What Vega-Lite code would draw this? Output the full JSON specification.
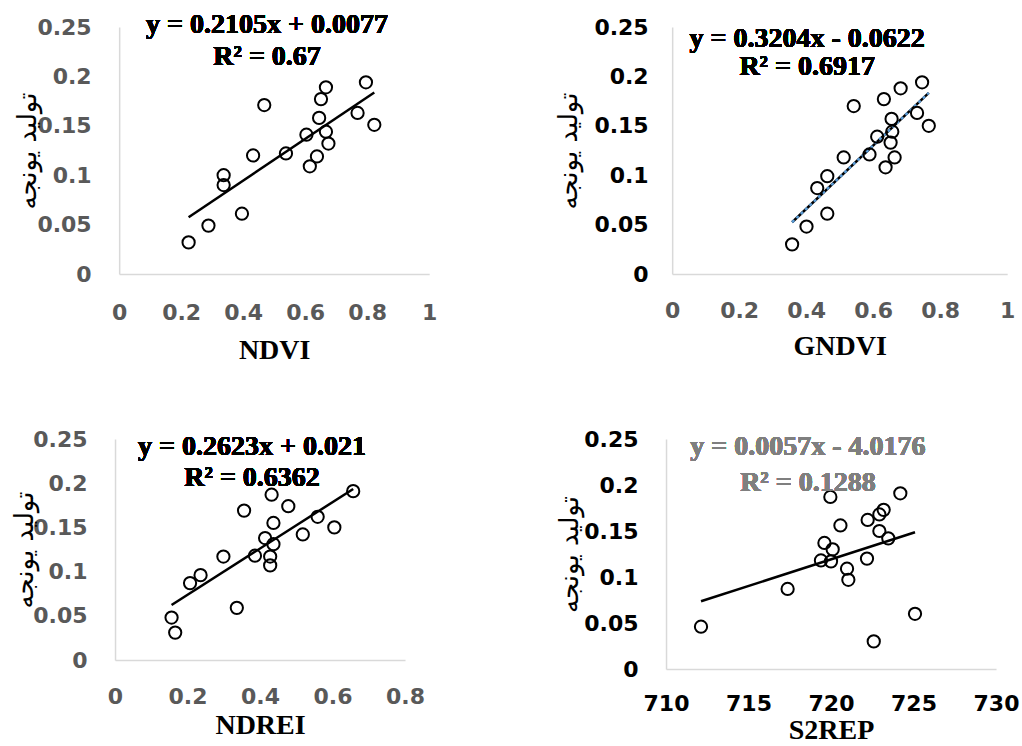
{
  "$schema": "https://vega.github.io/schema/vega-lite/v6.json",
  "padding": {"left": 11, "top": 11, "right": 4, "bottom": 4},
  "background": "white",
  "datasets": {
    "ndvi": [
      {"x": 0.224, "y": 0.032}, {"x": 0.288, "y": 0.049}, {"x": 0.396, "y": 0.061}, {"x": 0.337, "y": 0.100},
      {"x": 0.337, "y": 0.090}, {"x": 0.432, "y": 0.120}, {"x": 0.468, "y": 0.171}, {"x": 0.538, "y": 0.122},
      {"x": 0.604, "y": 0.141}, {"x": 0.615, "y": 0.109}, {"x": 0.638, "y": 0.119}, {"x": 0.645, "y": 0.158},
      {"x": 0.651, "y": 0.177}, {"x": 0.667, "y": 0.189}, {"x": 0.667, "y": 0.144}, {"x": 0.675, "y": 0.132},
      {"x": 0.769, "y": 0.163}, {"x": 0.796, "y": 0.194}, {"x": 0.823, "y": 0.151}
    ],
    "gndvi": [
      {"x": 0.358, "y": 0.030}, {"x": 0.401, "y": 0.048}, {"x": 0.463, "y": 0.061}, {"x": 0.433, "y": 0.087},
      {"x": 0.463, "y": 0.099}, {"x": 0.512, "y": 0.118}, {"x": 0.542, "y": 0.170}, {"x": 0.589, "y": 0.121},
      {"x": 0.612, "y": 0.139}, {"x": 0.637, "y": 0.108}, {"x": 0.664, "y": 0.118}, {"x": 0.652, "y": 0.133},
      {"x": 0.657, "y": 0.144}, {"x": 0.655, "y": 0.157}, {"x": 0.632, "y": 0.177}, {"x": 0.682, "y": 0.188},
      {"x": 0.731, "y": 0.163}, {"x": 0.746, "y": 0.194}, {"x": 0.766, "y": 0.150}
    ],
    "ndrei": [
      {"x": 0.156, "y": 0.048}, {"x": 0.166, "y": 0.031}, {"x": 0.207, "y": 0.087}, {"x": 0.236, "y": 0.096},
      {"x": 0.299, "y": 0.117}, {"x": 0.336, "y": 0.059}, {"x": 0.356, "y": 0.169}, {"x": 0.386, "y": 0.118},
      {"x": 0.414, "y": 0.138}, {"x": 0.428, "y": 0.107}, {"x": 0.428, "y": 0.117}, {"x": 0.437, "y": 0.131},
      {"x": 0.437, "y": 0.155}, {"x": 0.432, "y": 0.187}, {"x": 0.478, "y": 0.174}, {"x": 0.518, "y": 0.142},
      {"x": 0.559, "y": 0.162}, {"x": 0.605, "y": 0.150}, {"x": 0.657, "y": 0.191}
    ],
    "s2rep": [
      {"x": 712.12, "y": 0.046}, {"x": 717.37, "y": 0.087}, {"x": 719.39, "y": 0.118}, {"x": 719.60, "y": 0.137},
      {"x": 719.96, "y": 0.187}, {"x": 720.10, "y": 0.130}, {"x": 720.00, "y": 0.117}, {"x": 720.57, "y": 0.156},
      {"x": 720.97, "y": 0.109}, {"x": 721.05, "y": 0.097}, {"x": 722.18, "y": 0.120}, {"x": 722.22, "y": 0.162},
      {"x": 722.59, "y": 0.030}, {"x": 722.93, "y": 0.150}, {"x": 722.93, "y": 0.168}, {"x": 723.19, "y": 0.173},
      {"x": 723.47, "y": 0.142}, {"x": 724.20, "y": 0.191}, {"x": 725.09, "y": 0.060}
    ]
  },
  "config": {
    "view": {"stroke": null},
    "axis": {
      "grid": false, "ticks": false, "domainColor": "#d9d9d9", "domainWidth": 1.5,
      "labelFont": "DejaVu Sans", "labelFontWeight": "bold", "labelFontSize": 22, "labelColor": "#595959",
      "titleFont": "Liberation Serif", "titleFontSize": 28, "titleFontWeight": "bold", "titleColor": "#000000",
      "labelOverlap": false, "labelFlush": false, "format": "~g"
    },
    "axisY": {"titleFont": "DejaVu Sans", "titleFontSize": 26, "titleFontWeight": "normal"},
    "point": {"shape": "circle", "filled": false, "size": 150, "strokeWidth": 2, "color": "#000000", "opacity": 1},
    "text": {"font": "Liberation Serif", "fontWeight": "bold", "fontSize": 28, "align": "center", "baseline": "middle"}
  },
  "columns": 1,
  "center": true,
  "spacing": 64,
  "concat": [
    {
      "bounds": "flush",
      "spacing": 243,
      "hconcat": [
        {
          "width": 310, "height": 247,
          "data": {"name": "ndvi"},
          "encoding": {
            "x": {"field": "x", "type": "quantitative", "scale": {"domain": [0, 1], "nice": false},
                  "axis": {"title": "NDVI", "values": [0, 0.2, 0.4, 0.6, 0.8, 1], "labelPadding": 28, "titlePadding": 13}},
            "y": {"field": "y", "type": "quantitative", "scale": {"domain": [0, 0.25], "nice": false},
                  "axis": {"title": "تولید یونجه", "values": [0, 0.05, 0.1, 0.15, 0.2, 0.25], "labelPadding": 28, "titlePadding": -4}}
          },
          "layer": [
            {"mark": {"type": "line", "color": "#000000", "strokeWidth": 2.5}, "transform": [{"regression": "y", "on": "x"}]},
            {"mark": {"type": "point"}},
            {"mark": {"type": "text", "text": "y = 0.2105x + 0.0077", "color": "#000000"},
             "encoding": {"x": {"datum": 0.477}, "y": {"datum": 0.252}}},
            {"mark": {"type": "text", "text": "R² = 0.67", "color": "#000000"},
             "encoding": {"x": {"datum": 0.477}, "y": {"datum": 0.2196}}}
          ]
        },
        {
          "width": 335, "height": 247,
          "data": {"name": "gndvi"},
          "encoding": {
            "x": {"field": "x", "type": "quantitative", "scale": {"domain": [0, 1], "nice": false},
                  "axis": {"title": "GNDVI", "values": [0, 0.2, 0.4, 0.6, 0.8, 1], "labelPadding": 26, "titlePadding": 11}},
            "y": {"field": "y", "type": "quantitative", "scale": {"domain": [0, 0.25], "nice": false},
                  "axis": {"title": "تولید یونجه", "values": [0, 0.05, 0.1, 0.15, 0.2, 0.25], "labelPadding": 24, "titlePadding": 12, "labelColor": "#000000"}}
          },
          "layer": [
            {"mark": {"type": "line", "color": "#000000", "strokeWidth": 2.5}, "transform": [{"regression": "y", "on": "x"}]},
            {"mark": {"type": "line", "color": "#5b9bd5", "strokeWidth": 2.5, "strokeDash": [3, 3]}, "transform": [{"regression": "y", "on": "x"}]},
            {"mark": {"type": "point"}},
            {"mark": {"type": "text", "text": "y = 0.3204x - 0.0622", "color": "#000000"},
             "encoding": {"x": {"datum": 0.403}, "y": {"datum": 0.238}}},
            {"mark": {"type": "text", "text": "R² = 0.6917", "color": "#000000"},
             "encoding": {"x": {"datum": 0.403}, "y": {"datum": 0.2095}}}
          ]
        }
      ]
    },
    {
      "bounds": "flush",
      "spacing": 261,
      "hconcat": [
        {
          "width": 290, "height": 221,
          "data": {"name": "ndrei"},
          "encoding": {
            "x": {"field": "x", "type": "quantitative", "scale": {"domain": [0, 0.8], "nice": false},
                  "axis": {"title": "NDREI", "values": [0, 0.2, 0.4, 0.6, 0.8], "labelPadding": 26, "titlePadding": 4}},
            "y": {"field": "y", "type": "quantitative", "scale": {"domain": [0, 0.25], "nice": false},
                  "axis": {"title": "تولید یونجه", "values": [0, 0.05, 0.1, 0.15, 0.2, 0.25], "labelPadding": 28, "titlePadding": -5}}
          },
          "layer": [
            {"mark": {"type": "line", "color": "#000000", "strokeWidth": 2.5}, "transform": [{"regression": "y", "on": "x"}]},
            {"mark": {"type": "point"}},
            {"mark": {"type": "text", "text": "y = 0.2623x + 0.021", "color": "#000000"},
             "encoding": {"x": {"datum": 0.378}, "y": {"datum": 0.241}}},
            {"mark": {"type": "text", "text": "R² = 0.6362", "color": "#000000"},
             "encoding": {"x": {"datum": 0.378}, "y": {"datum": 0.206}}}
          ]
        },
        {
          "width": 330, "height": 230,
          "data": {"name": "s2rep"},
          "encoding": {
            "x": {"field": "x", "type": "quantitative", "scale": {"domain": [710, 730], "nice": false, "zero": false},
                  "axis": {"title": "S2REP", "values": [710, 715, 720, 725, 730], "labelPadding": 24, "titlePadding": 2, "labelColor": "#000000"}},
            "y": {"field": "y", "type": "quantitative", "scale": {"domain": [0, 0.25], "nice": false},
                  "axis": {"title": "تولید یونجه", "values": [0, 0.05, 0.1, 0.15, 0.2, 0.25], "labelPadding": 28, "titlePadding": 1, "labelColor": "#000000"}}
          },
          "layer": [
            {"mark": {"type": "line", "color": "#000000", "strokeWidth": 2.5}, "transform": [{"regression": "y", "on": "x"}]},
            {"mark": {"type": "point"}},
            {"mark": {"type": "text", "text": "y = 0.0057x - 4.0176", "color": "#7f7f7f"},
             "encoding": {"x": {"datum": 718.6}, "y": {"datum": 0.241}}},
            {"mark": {"type": "text", "text": "R² = 0.1288", "color": "#7f7f7f"},
             "encoding": {"x": {"datum": 718.6}, "y": {"datum": 0.202}}}
          ]
        }
      ]
    }
  ]
}
